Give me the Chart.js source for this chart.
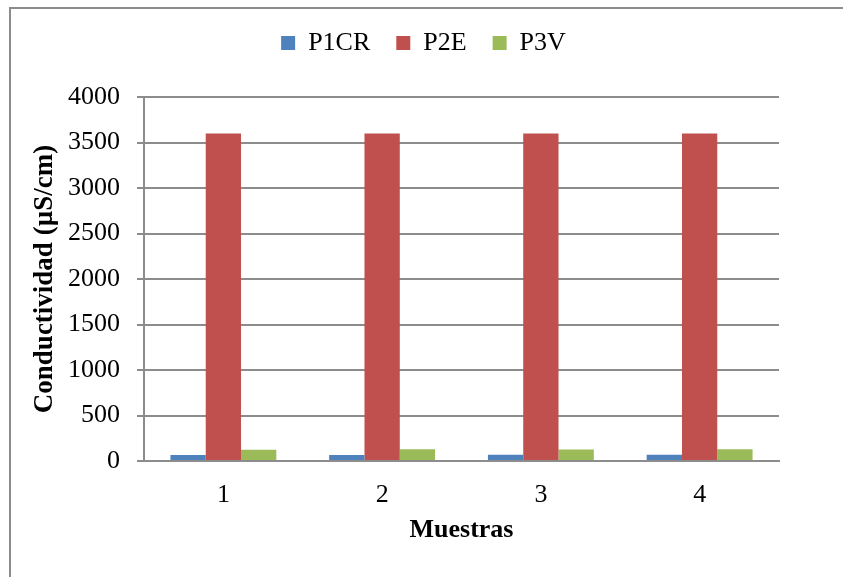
<!DOCTYPE html>
<html>
<head>
<meta charset="utf-8">
<script src="https://cdn.jsdelivr.net/npm/chart.js@4/dist/chart.umd.min.js"></script>
<style>
  html, body { margin: 0; padding: 0; background: #ffffff; }
  #wrap { position: relative; width: 843px; height: 577px; overflow: hidden; }
  #frame {
    position: absolute; left: 9px; top: 7px; width: 900px; height: 700px;
    border-left: 2px solid #8c8c8c; border-top: 2px solid #8c8c8c;
  }
  canvas { position: absolute; left: 0; top: 0; }
</style>
</head>
<body>
<div id="wrap">
  <div id="frame"></div>
  <canvas id="chart" width="843" height="577"></canvas>
</div>
<script>
// Conductividad por muestra y punto de muestreo
const categories = ['1', '2', '3', '4'];
const seriesNames = ['P1CR', 'P2E', 'P3V'];
const p1cr = [65, 66, 68, 69];
const p2e = [3600, 3600, 3600, 3600];
const p3v = [124, 128, 126, 128];
const yTicks = [0, 500, 1000, 1500, 2000, 2500, 3000, 3500, 4000];

const colors = ['#4f81bd', '#c0504d', '#9bbb59'];
const gridColor = '#8c8c8c';
const serif = 'Liberation Serif, Times New Roman, serif';

Chart.defaults.font.family = serif;
Chart.defaults.color = '#000000';

// extra room under the legend, and legend shifted to sit over the plot
const legendPlacement = {
  id: 'legendPlacement',
  beforeInit(chart) {
    const fit = chart.legend.fit;
    chart.legend.fit = function () {
      fit.call(this);
      this.height += 31;
    };
  },
  afterLayout(chart) {
    chart.legend.left += 68;
  }
};

new Chart(document.getElementById('chart'), {
  type: 'bar',
  data: {
    labels: categories,
    datasets: [p1cr, p2e, p3v].map((vals, i) => ({
      label: seriesNames[i],
      data: vals,
      backgroundColor: colors[i],
      borderWidth: 0,
      categoryPercentage: 0.667,
      barPercentage: 1.0
    }))
  },
  options: {
    responsive: false,
    animation: false,
    layout: { padding: { top: 4, left: 0, right: 64, bottom: 0 } },
    plugins: {
      legend: {
        position: 'top',
        labels: {
          boxWidth: 14,
          boxHeight: 14,
          padding: 26,
          font: { size: 26, family: serif },
          color: '#000000'
        }
      },
      tooltip: { enabled: false }
    },
    scales: {
      x: {
        grid: { display: false },
        border: { display: true, color: gridColor, width: 2 },
        ticks: { font: { size: 26, family: serif }, color: '#000', padding: 11 },
        title: {
          display: true,
          text: 'Muestras',
          font: { size: 26, weight: 'bold', family: serif },
          color: '#000',
          padding: { top: 0, bottom: 31 }
        },
        afterFit(scale) { scale.height = 116; }
      },
      y: {
        min: 0,
        max: 4000,
        afterBuildTicks(scale) { scale.ticks = yTicks.map(v => ({ value: v })); },
        grid: { color: gridColor, lineWidth: 2, tickLength: 7, drawTicks: true },
        border: { display: true, color: gridColor, width: 2 },
        ticks: {
          font: { size: 26, family: serif },
          color: '#000',
          padding: 17,
          callback: (v) => String(v)
        },
        title: {
          display: true,
          text: 'Conductividad (µS/cm)',
          font: { size: 27, weight: 'bold', family: serif },
          color: '#000',
          padding: { top: 29, bottom: 0 }
        },
        afterFit(scale) { scale.width = 144; }
      }
    }
  },
  plugins: [legendPlacement]
});
</script>
</body>
</html>
